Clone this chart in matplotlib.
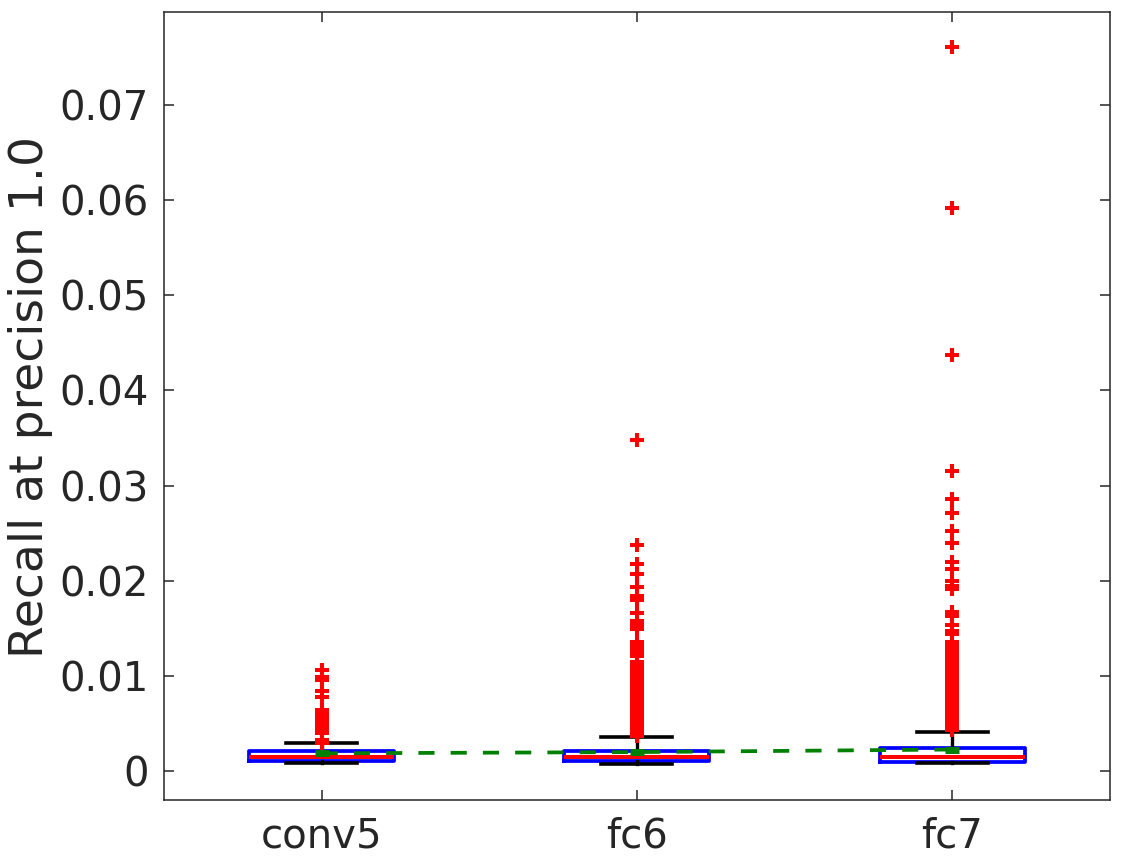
import matplotlib
matplotlib.use("Agg")
import matplotlib.pyplot as plt

# layer names and box statistics
layers = ["conv5", "fc6", "fc7"]
q1 = [0.00105, 0.00105, 0.00102]
med = [0.00147, 0.00150, 0.00154]
q3 = [0.00210, 0.00210, 0.00249]
whislo = [0.00084, 0.00082, 0.00084]
whishi = [0.00294, 0.00360, 0.00413]
means = [0.00190, 0.00203, 0.00230]

fliers_conv5 = [0.01065, 0.0099, 0.0096, 0.0084, 0.0078, 0.0065, 0.0060, 0.0058,
                0.0056, 0.0054, 0.0052, 0.0050, 0.0048, 0.0046, 0.0044, 0.0042,
                0.0040, 0.0033, 0.0030]
fliers_fc6 = [0.0348, 0.0238, 0.0218, 0.0207, 0.0194, 0.0184, 0.0180, 0.0166,
              0.0158, 0.0154, 0.0149, 0.0136, 0.0133, 0.0130, 0.0127, 0.0124,
              0.0121, 0.0115, 0.0112, 0.0109, 0.0106, 0.0103, 0.0100, 0.0097,
              0.0094, 0.0091, 0.0089, 0.0087, 0.0085, 0.0083, 0.0081, 0.0079,
              0.0077, 0.0075, 0.0073, 0.0071, 0.0069, 0.0067, 0.0065, 0.0063,
              0.0061, 0.0059, 0.0057, 0.0055, 0.0053, 0.0051, 0.0049, 0.0047,
              0.0045, 0.0043, 0.0041, 0.0039, 0.0037]
fliers_fc7 = [0.0761, 0.0591, 0.0437, 0.0315, 0.0286, 0.0271, 0.0252, 0.0240,
              0.0220, 0.0213, 0.0200, 0.0195, 0.0191, 0.0167, 0.0163, 0.0154,
              0.0147, 0.0144, 0.0136, 0.0133, 0.0130, 0.0127, 0.0124, 0.0121,
              0.0118, 0.0115, 0.0112, 0.0109, 0.0106, 0.0103, 0.0100, 0.0097,
              0.0094, 0.0091, 0.0088, 0.0085, 0.0082, 0.0079, 0.0076, 0.0073,
              0.0070, 0.0067, 0.0064, 0.0061, 0.0058, 0.0055, 0.0052, 0.0049,
              0.0046, 0.0043]
fliers = [fliers_conv5, fliers_fc6, fliers_fc7]

yticks = [0, 0.01, 0.02, 0.03, 0.04, 0.05, 0.06, 0.07]
ytick_labels = ["0", "0.01", "0.02", "0.03", "0.04", "0.05", "0.06", "0.07"]

plt.rcParams['font.family'] = ['DejaVu Sans']
fig = plt.figure(figsize=(11.24, 8.58), dpi=100)
ax = fig.add_axes([0.1459, 0.0676, 0.8416, 0.9181])

stats = []
for i in range(len(layers)):
    stats.append({'label': layers[i], 'q1': q1[i], 'med': med[i], 'q3': q3[i],
                  'whislo': whislo[i], 'whishi': whishi[i], 'fliers': fliers[i]})

pos = [1, 2, 3]
ax.bxp(stats, positions=pos, widths=0.46, capwidths=0.225,
       boxprops=dict(color='#0000ff', linewidth=2.7),
       medianprops=dict(color='#ff0000', linewidth=2.9),
       whiskerprops=dict(color='black', linewidth=2.4),
       capprops=dict(color='black', linewidth=2.6),
       flierprops=dict(marker='+', markeredgecolor='#ff0000', markersize=9.5,
                       markeredgewidth=2.9, linestyle='none', zorder=4))

ax.plot(pos, means, color='#008000', linewidth=2.7, linestyle=(0, (4.3, 4.3)),
        marker='_', markersize=9.5, markeredgewidth=5, zorder=5)

ax.set_xlim(0.5, 3.5)
ax.set_ylim(-0.003, 0.0797)
ax.set_xticks(pos)
ax.set_xticklabels(layers)
ax.set_yticks(yticks)
ax.set_yticklabels(ytick_labels)
ax.set_ylabel("Recall at precision 1.0", fontsize=34, color='#262626')
ax.yaxis.set_label_coords(-0.117, 0.512)

ax.tick_params(direction='in', length=7, width=1.1, top=True, right=True,
               labelsize=29, labelcolor='#262626', color='#262626')
ax.tick_params(axis='y', pad=11)
ax.tick_params(axis='x', pad=12)
for s in ax.spines.values():
    s.set_linewidth(1.1)
    s.set_color('#262626')

fig.savefig("out.png", dpi=100)
